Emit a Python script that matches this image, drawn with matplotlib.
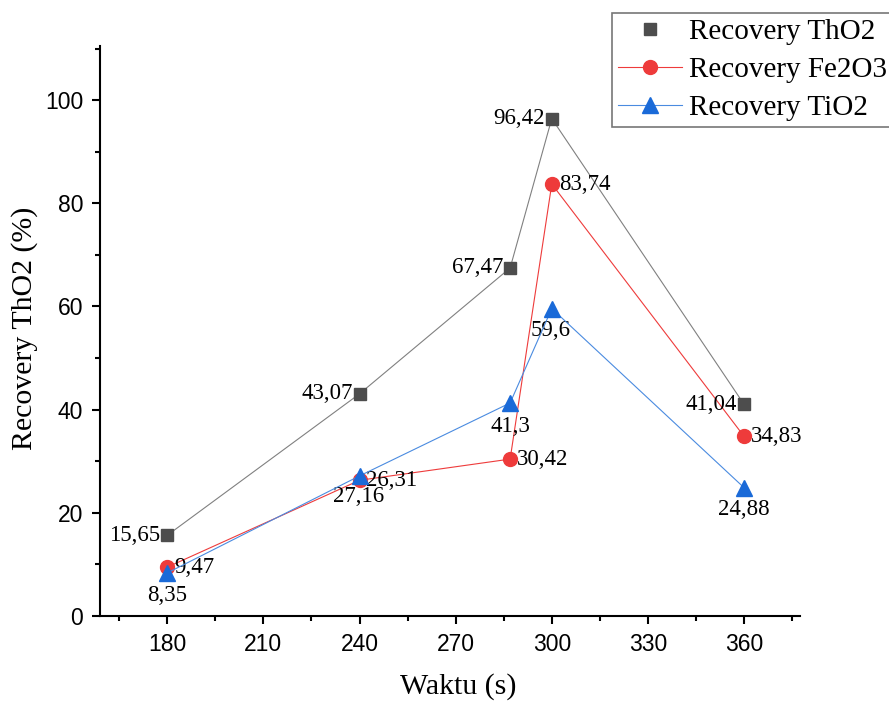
import matplotlib.pyplot as plt
from matplotlib.ticker import MultipleLocator

# data
waktu = [180, 240, 287, 300, 360]
tho2 = [15.65, 43.07, 67.47, 96.42, 41.04]
fe2o3 = [9.47, 26.31, 30.42, 83.74, 34.83]
tio2 = [8.35, 27.16, 41.3, 59.6, 24.88]

tho2_labels = ['15,65', '43,07', '67,47', '96,42', '41,04']
fe2o3_labels = ['9,47', '26,31', '30,42', '83,74', '34,83']
tio2_labels = ['8,35', '27,16', '41,3', '59,6', '24,88']

serif = 'Liberation Serif'
sans = 'Liberation Sans'

fig = plt.figure(figsize=(8.89, 7.02), dpi=100)
ax = fig.add_axes([0.1125, 0.1225, 0.7875, 0.812])

ax.plot(waktu, tho2, color='#808080', lw=0.8, marker='s', ms=9,
        mfc='#4d4d4d', mec='#4d4d4d', label='Recovery ThO2', zorder=3)
ax.plot(waktu, fe2o3, color='#ee3b3b', lw=0.8, marker='o', ms=10,
        mfc='#ee3b3b', mec='#ee3b3b', label='Recovery Fe2O3', zorder=3)
ax.plot(waktu, tio2, color='#4a8be0', lw=0.8, marker='^', ms=11,
        mfc='#1a6ad8', mec='#1a6ad8', label='Recovery TiO2', zorder=4)

fs = 16.5
for x, y, t in zip(waktu, tho2, tho2_labels):
    ax.annotate(t, (x, y), xytext=(-5, 0), textcoords='offset points',
                ha='right', va='center', fontsize=fs, family=serif)
for x, y, t in zip(waktu, fe2o3, fe2o3_labels):
    ax.annotate(t, (x, y), xytext=(5, 0), textcoords='offset points',
                ha='left', va='center', fontsize=fs, family=serif)
tio2_off = [(0, -16), (-1, -15), (0, -17), (-1, -16), (0, -16)]
for (x, y, t), (dx, dy) in zip(zip(waktu, tio2, tio2_labels), tio2_off):
    ax.annotate(t, (x, y), xytext=(dx, dy), textcoords='offset points',
                ha='center', va='center', fontsize=fs, family=serif)

ax.set_xlim(159, 377.5)
ax.set_ylim(0, 110.5)
ax.xaxis.set_major_locator(MultipleLocator(30))
ax.xaxis.set_minor_locator(MultipleLocator(15))
ax.yaxis.set_major_locator(MultipleLocator(20))
ax.yaxis.set_minor_locator(MultipleLocator(10))
ax.set_yticks([0, 20, 40, 60, 80, 100])

for s in ['top', 'right']:
    ax.spines[s].set_visible(False)
for s in ['left', 'bottom']:
    ax.spines[s].set_linewidth(1.5)

ax.tick_params(which='major', direction='out', length=6, width=1.5,
               labelsize=16.5, pad=6)
ax.tick_params(which='minor', direction='out', length=3.5, width=1.5)
for lab in ax.get_xticklabels() + ax.get_yticklabels():
    lab.set_family(sans)

ax.set_xlabel('Waktu (s)', fontsize=21.5, family=serif)
ax.set_ylabel('Recovery ThO2 (%)', fontsize=21.5, family=serif)
ax.xaxis.set_label_coords(0.511, -0.1)
ax.yaxis.set_label_coords(-0.089, 0.505)

leg = fig.legend(loc='upper left', bbox_to_anchor=(612 / 889, 1 - 13 / 702),
                 prop={'family': serif, 'size': 21}, frameon=True,
                 fancybox=False, edgecolor='#555555', handlelength=2.2,
                 borderaxespad=0, labelspacing=0.39, borderpad=0.2,
                 handletextpad=0.25)
leg.get_frame().set_linewidth(1.2)
leg.legend_handles[0].set_linestyle('none')

fig.savefig('out.png', dpi=100)
